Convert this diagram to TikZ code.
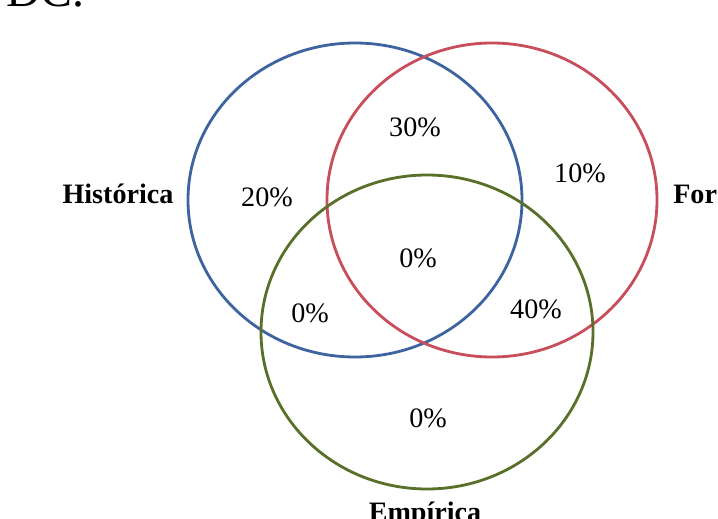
\documentclass[tikz,border=0pt]{standalone}
\usepackage{fontspec}
\setmainfont{Liberation Serif}
\usetikzlibrary{calc}
\definecolor{histblue}{RGB}{62,100,160}
\definecolor{forred}{RGB}{200,78,92}
\definecolor{empgreen}{RGB}{88,112,42}
\begin{document}
\begin{tikzpicture}[x=0.025cm,y=-0.025cm]
\tikzstyle{ring} = [line width=2pt]
\tikzstyle{pct} = [inner sep=0pt, anchor=base, font=\fontsize{20}{24}\selectfont]
\tikzstyle{setname} = [inner sep=0pt, anchor=base, font=\fontsize{20}{24}\selectfont\bfseries]
\useasboundingbox (0,0) rectangle (718,519);
\coordinate (H) at (355,200);
\coordinate (F) at (492,200);
\coordinate (E) at (427,332);
\draw[ring, histblue] (H) ellipse [x radius=167, y radius=157];
\draw[ring, forred] (F) ellipse [x radius=165, y radius=157];
\draw[ring, empgreen] (E) ellipse [x radius=166, y radius=157];
\node[inner sep=0pt, anchor=base west, font=\fontsize{34}{38}\selectfont] (dc) at (6,7) {DC.};
\node[setname] (hist) at (118,203) {Histórica};
\node[setname, anchor=base west] (for) at (673,203) {For};
\node[setname] (emp) at (425,521) {Empírica};
\node[pct] (h) at (267,206) {20\%};
\node[pct] (hf) at (415,137) {30\%};
\node[pct] (f) at (580,182) {10\%};
\node[pct] (hfe) at (418,267) {0\%};
\node[pct] (he) at (310,322) {0\%};
\node[pct] (fe) at (536,318) {40\%};
\node[pct] (e) at (428,427) {0\%};
\end{tikzpicture}
\end{document}
